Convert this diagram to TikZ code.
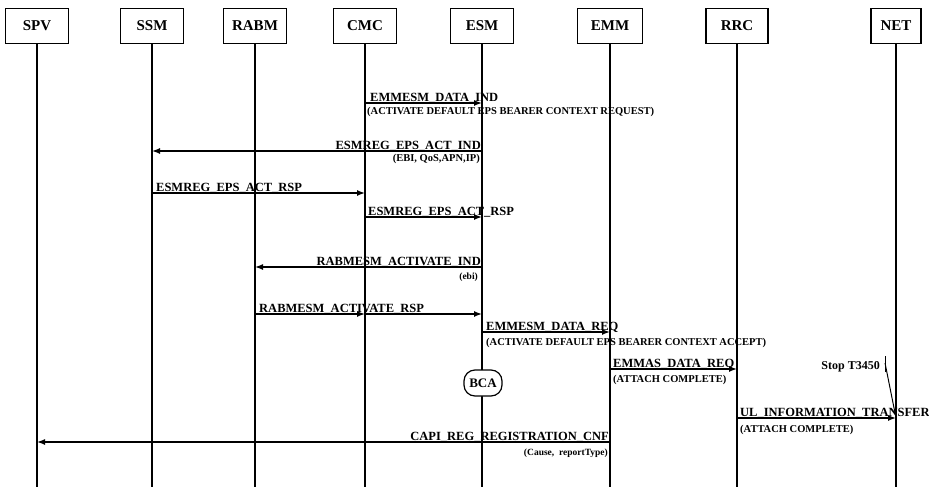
\documentclass[tikz,border=0pt]{standalone}
\usepackage{fontspec}
\setmainfont{Liberation Serif}
\usetikzlibrary{arrows.meta}
\begin{document}
\begin{tikzpicture}[x=1pt,y=-1pt,
  ent/.style={draw,line width=1.2pt,minimum height=35pt,inner sep=0pt,font=\bfseries\fontsize{15}{15}\selectfont},
  life/.style={line width=1.2pt},
  msg/.style={line width=1.4pt,-{Latex[length=8pt,width=6pt]}},
  lbl/.style={font=\bfseries\fontsize{12.5}{12.5}\selectfont,inner sep=0pt},
  sub/.style={font=\bfseries\fontsize{10.5}{10.5}\selectfont,inner sep=0pt},
  subs/.style={font=\bfseries\fontsize{9.5}{9.5}\selectfont,inner sep=0pt},
  bca/.style={draw,line width=1.2pt,fill=white,rounded corners=11pt,minimum width=38pt,minimum height=26pt,inner sep=0pt,font=\bfseries\fontsize{13}{13}\selectfont}]
\useasboundingbox (0,0) rectangle (929,487);
% entities
\node[ent,minimum width=63pt] (SPV) at (37,26) {SPV};
\node[ent,minimum width=63pt] (SSM) at (152,26) {SSM};
\node[ent,minimum width=63pt] (RABM) at (255,26) {RABM};
\node[ent,minimum width=63pt] (CMC) at (365,26) {CMC};
\node[ent,minimum width=63pt] (ESM) at (482,26) {ESM};
\node[ent,minimum width=65pt] (EMM) at (610,26) {EMM};
\node[ent,minimum width=62pt] (RRC) at (737,26) {RRC};
\node[ent,minimum width=50pt] (NET) at (896,26) {NET};
% lifelines
\foreach \n in {SPV,SSM,RABM,CMC,ESM,EMM,RRC,NET}
  \draw[life] (\n.south) -- (\n.south |- 0,487);
% BCA
\node[bca] (BCA) at (483,383) {BCA};
% 1
\draw[msg] (CMC |- 0,103) -- (ESM |- 0,103);
\node[lbl,anchor=base west] (l1) at (370,101) {EMMESM\_DATA\_IND};
\node[sub,anchor=base west] (s1) at (367,114) {(ACTIVATE DEFAULT EPS BEARER CONTEXT REQUEST)};
% 2
\draw[msg] (ESM |- 0,151) -- (SSM |- 0,151);
\node[lbl,anchor=base east] (l2) at (481,149) {ESMREG\_EPS\_ACT\_IND};
\node[sub,anchor=base east] (s2) at (480,161) {(EBI, QoS,APN,IP)};
% 3
\draw[msg] (SSM |- 0,193) -- (CMC |- 0,193);
\node[lbl,anchor=base west] (l3) at (156,191) {ESMREG\_EPS\_ACT\_RSP};
% 4
\draw[msg] (CMC |- 0,217) -- (ESM |- 0,217);
\node[lbl,anchor=base west] (l4) at (368,215) {ESMREG\_EPS\_ACT\_RSP};
% 5
\draw[msg] (ESM |- 0,267) -- (RABM |- 0,267);
\node[lbl,anchor=base east] (l5) at (481,265) {RABMESM\_ACTIVATE\_IND};
\node[subs,anchor=base east] (s5) at (478,279) {(ebi)};
% 6
\draw[msg] (RABM |- 0,314) -- (CMC |- 0,314);
\draw[msg] (CMC |- 0,314) -- (ESM |- 0,314);
\node[lbl,anchor=base west] (l6) at (259,312) {RABMESM\_ACTIVATE\_RSP};
% 7
\draw[msg] (ESM |- 0,332) -- (EMM |- 0,332);
\node[lbl,anchor=base west] (l7) at (486,330) {EMMESM\_DATA\_REQ};
\node[sub,anchor=base west] (s7) at (486,345) {(ACTIVATE DEFAULT EPS BEARER CONTEXT ACCEPT)};
% 8
\draw[msg] (EMM |- 0,369) -- (RRC |- 0,369);
\node[lbl,anchor=base west] (l8) at (613,367) {EMMAS\_DATA\_REQ};
\node[sub,anchor=base west] (s8) at (613,382) {(ATTACH COMPLETE)};
% 9
\draw[msg] (RRC |- 0,418) -- (NET |- 0,418);
\node[lbl,anchor=base west] (l9) at (740,416) {UL\_INFORMATION\_TRANSFER};
\node[sub,anchor=base west] (s9) at (740,432) {(ATTACH COMPLETE)};
% 10
\draw[msg] (EMM |- 0,442) -- (SPV |- 0,442);
\node[lbl,anchor=base east] (l10) at (609,440) {CAPI\_REG\_REGISTRATION\_CNF};
\node[subs,anchor=base east] (s10) at (608,455) {(Cause,\enspace reportType)};
% Stop T3450
\node[lbl,font=\bfseries\fontsize{12}{12}\selectfont,anchor=base east] (stop) at (880,369) {Stop T3450};
\coordinate (t1) at (885,356);
\coordinate (t2) at (885,372);
\coordinate (t3) at (885,363);
\draw[line width=1pt] (t1) -- (t2);
\draw[line width=1pt] (t3) -- (NET |- 0,418);
\end{tikzpicture}
\end{document}
